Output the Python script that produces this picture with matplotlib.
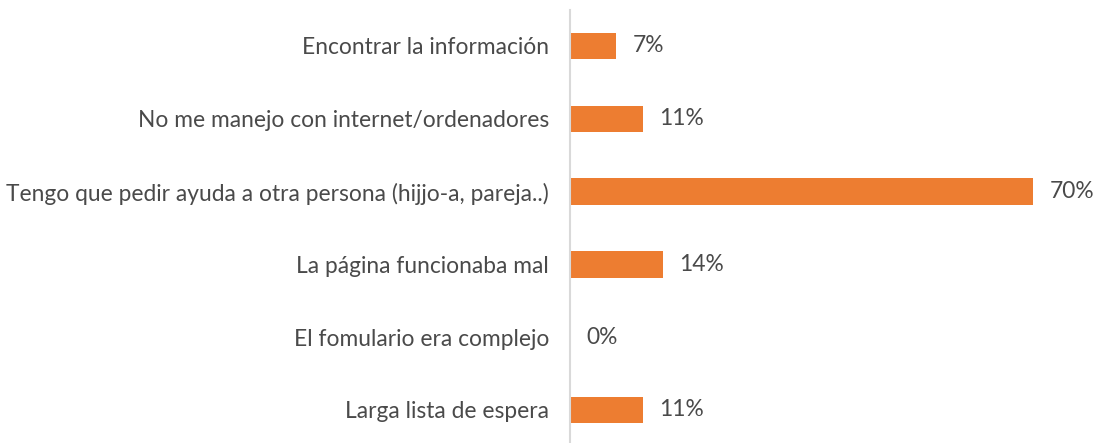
import matplotlib
matplotlib.use('Agg')
import matplotlib.pyplot as plt

# datos
categorias = ['Encontrar la información',
              'No me manejo con internet/ordenadores',
              'Tengo que pedir ayuda a otra persona (hijjo-a, pareja..)',
              'La página funcionaba mal',
              'El fomulario era complejo',
              'Larga lista de espera']
valores = [7, 11, 70, 14, 0, 11]
etiquetas = ['7%', '11%', '70%', '14%', '0%', '11%']

plt.rcParams['font.family'] = ['Lato', 'DejaVu Sans']

fig = plt.figure(figsize=(10.94, 4.43), dpi=100)
ax = fig.add_axes([570 / 1094, -3.4 / 443, 524 / 1094, 436.8 / 443])

pos = list(range(len(categorias)))
ax.barh(pos, valores, height=0.36, color='#ED7D31')

for p, v, t in zip(pos, valores, etiquetas):
    ax.text(v + 2.5, p, t, va='center', ha='left', fontsize=16.4, color='#4a4a4a')

ax.set_xlim(0, 79.2)
ax.set_ylim(len(categorias) - 0.5, -0.5)
ax.set_yticks(pos)
ax.set_yticklabels(categorias, fontsize=16.4, color='#4a4a4a')
ax.tick_params(axis='y', length=0, pad=15)
ax.set_xticks([])

for s in ['top', 'right', 'bottom']:
    ax.spines[s].set_visible(False)
ax.spines['left'].set_color('#D9D9D9')
ax.spines['left'].set_linewidth(1.5)

fig.savefig('out.png', dpi=100)
